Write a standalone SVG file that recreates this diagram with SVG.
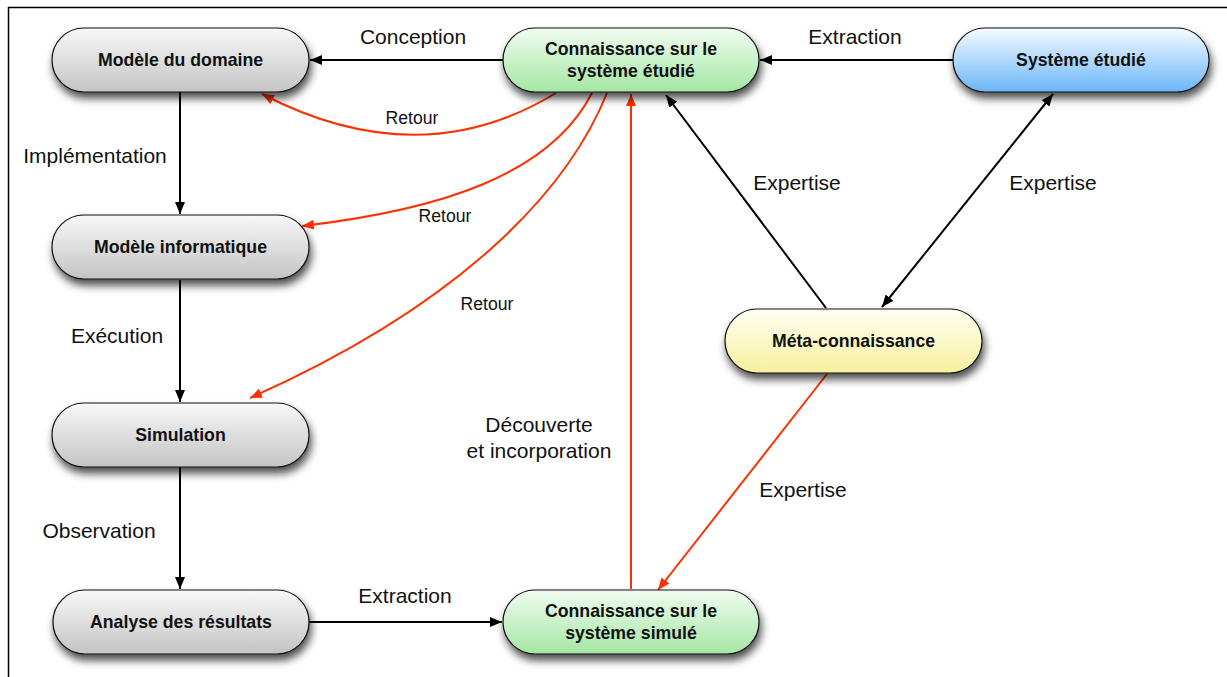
<svg xmlns="http://www.w3.org/2000/svg" width="1227" height="677" viewBox="0 0 1227 677">
<defs>
<linearGradient id="gGrey" x1="0" y1="0" x2="0" y2="1"><stop offset="0" stop-color="#f8f8f8"/><stop offset="1" stop-color="#c4c4c4"/></linearGradient>
<linearGradient id="gGreen" x1="0" y1="0" x2="0" y2="1"><stop offset="0" stop-color="#f0fcf0"/><stop offset="1" stop-color="#a4e6a4"/></linearGradient>
<linearGradient id="gBlue" x1="0" y1="0" x2="0" y2="1"><stop offset="0" stop-color="#f6fbff"/><stop offset="1" stop-color="#6ab6f8"/></linearGradient>
<linearGradient id="gYellow" x1="0" y1="0" x2="0" y2="1"><stop offset="0" stop-color="#fffff2"/><stop offset="1" stop-color="#f6f09e"/></linearGradient>
<filter id="shadow" x="-20%" y="-30%" width="140%" height="180%"><feDropShadow dx="2" dy="6" stdDeviation="4" flood-color="#000" flood-opacity="0.7"/></filter>
<marker id="aB" viewBox="0 0 12 10" refX="12" refY="5" markerWidth="12" markerHeight="10" markerUnits="userSpaceOnUse" orient="auto-start-reverse"><path d="M0,0 L12,5 L0,10 Z" fill="#000"/></marker>
<marker id="aR" viewBox="0 0 12 10" refX="12" refY="5" markerWidth="12" markerHeight="10" markerUnits="userSpaceOnUse" orient="auto-start-reverse"><path d="M0,0 L12,5 L0,10 Z" fill="#ff3000"/></marker>
</defs>
<style>
.node{stroke:#111;stroke-width:1.2;filter:url(#shadow)}
.nt{font-family:"Liberation Sans",Arial,sans-serif;font-weight:bold;font-size:17.7px;fill:#111;text-anchor:middle}
.lbl{font-family:"Liberation Sans",Arial,sans-serif;font-size:21px;fill:#111;text-anchor:middle}
.ret{font-family:"Liberation Sans",Arial,sans-serif;font-size:17.6px;fill:#111;text-anchor:middle}
.cb{fill:none;stroke:#000;stroke-width:2}
.cr{fill:none;stroke:#ff3000;stroke-width:2}
</style>
<rect width="1227" height="677" fill="#fff"/>
<path d="M8.5,677 V7.5 H1227" fill="none" stroke="#000" stroke-width="1.5"/>

<g id="connectors">
<line class="cb" x1="503" y1="60" x2="310" y2="60" marker-end="url(#aB)"/>
<line class="cb" x1="953" y1="60" x2="760" y2="60" marker-end="url(#aB)"/>
<line class="cb" x1="180" y1="92" x2="180" y2="214" marker-end="url(#aB)"/>
<line class="cb" x1="180" y1="280" x2="180" y2="402" marker-end="url(#aB)"/>
<line class="cb" x1="180" y1="467" x2="180" y2="589" marker-end="url(#aB)"/>
<line class="cb" x1="309" y1="622" x2="502" y2="622" marker-end="url(#aB)"/>
<line class="cb" x1="826" y1="308" x2="666" y2="95" marker-end="url(#aB)"/>
<line class="cb" x1="1053" y1="94" x2="882" y2="307" marker-start="url(#aB)" marker-end="url(#aB)"/>
<path class="cr" d="M556,93 Q420,176 262,94" marker-end="url(#aR)"/>
<path class="cr" d="M592,93 C550,175 440,210 302,226" marker-end="url(#aR)"/>
<path class="cr" d="M607,93 C570,185 470,300 250,398" marker-end="url(#aR)"/>
<line class="cr" x1="631" y1="589" x2="631" y2="94" marker-end="url(#aR)"/>
<line class="cr" x1="827" y1="374" x2="658" y2="590" marker-end="url(#aR)"/>
<text class="lbl" x="413" y="43.5">Conception</text>
<text class="lbl" x="855" y="43.5">Extraction</text>
<text class="lbl" x="95" y="162.5">Implémentation</text>
<text class="lbl" x="117" y="342.5">Exécution</text>
<text class="lbl" x="99" y="537.5">Observation</text>
<text class="lbl" x="405" y="602.5">Extraction</text>
<text class="lbl" x="797" y="189.5">Expertise</text>
<text class="lbl" x="1053" y="189.5">Expertise</text>
<text class="lbl" x="803" y="496.5">Expertise</text>
<text class="lbl" x="539" y="431.5">Découverte</text>
<text class="lbl" x="539" y="457.5">et incorporation</text>
<text class="ret" x="412" y="124">Retour</text>
<text class="ret" x="445" y="222">Retour</text>
<text class="ret" x="487" y="310">Retour</text>
</g>

<g id="n-modele-domaine"><rect class="node" x="52" y="28" width="257" height="64" rx="32" fill="url(#gGrey)"/><text class="nt" x="180.5" y="66">Modèle du domaine</text></g>
<g id="n-connaissance-etudie"><rect class="node" x="503" y="28" width="256" height="64" rx="32" fill="url(#gGreen)"/><text class="nt" x="631" y="54.5">Connaissance sur le</text><text class="nt" x="631" y="76.5">système étudié</text></g>
<g id="n-systeme-etudie"><rect class="node" x="953" y="28" width="256" height="64" rx="32" fill="url(#gBlue)"/><text class="nt" x="1081" y="66">Système étudié</text></g>
<g id="n-modele-informatique"><rect class="node" x="52" y="215" width="257" height="64" rx="32" fill="url(#gGrey)"/><text class="nt" x="180.5" y="253">Modèle informatique</text></g>
<g id="n-simulation"><rect class="node" x="52" y="403" width="257" height="64" rx="32" fill="url(#gGrey)"/><text class="nt" x="180.5" y="441">Simulation</text></g>
<g id="n-analyse"><rect class="node" x="53" y="590" width="256" height="64" rx="32" fill="url(#gGrey)"/><text class="nt" x="181" y="628">Analyse des résultats</text></g>
<g id="n-connaissance-simule"><rect class="node" x="503" y="590" width="256" height="64" rx="32" fill="url(#gGreen)"/><text class="nt" x="631" y="616.5">Connaissance sur le</text><text class="nt" x="631" y="638.5">système simulé</text></g>
<g id="n-meta"><rect class="node" x="725" y="309" width="257" height="64" rx="32" fill="url(#gYellow)"/><text class="nt" x="853.5" y="347">Méta-connaissance</text></g>
</svg>
